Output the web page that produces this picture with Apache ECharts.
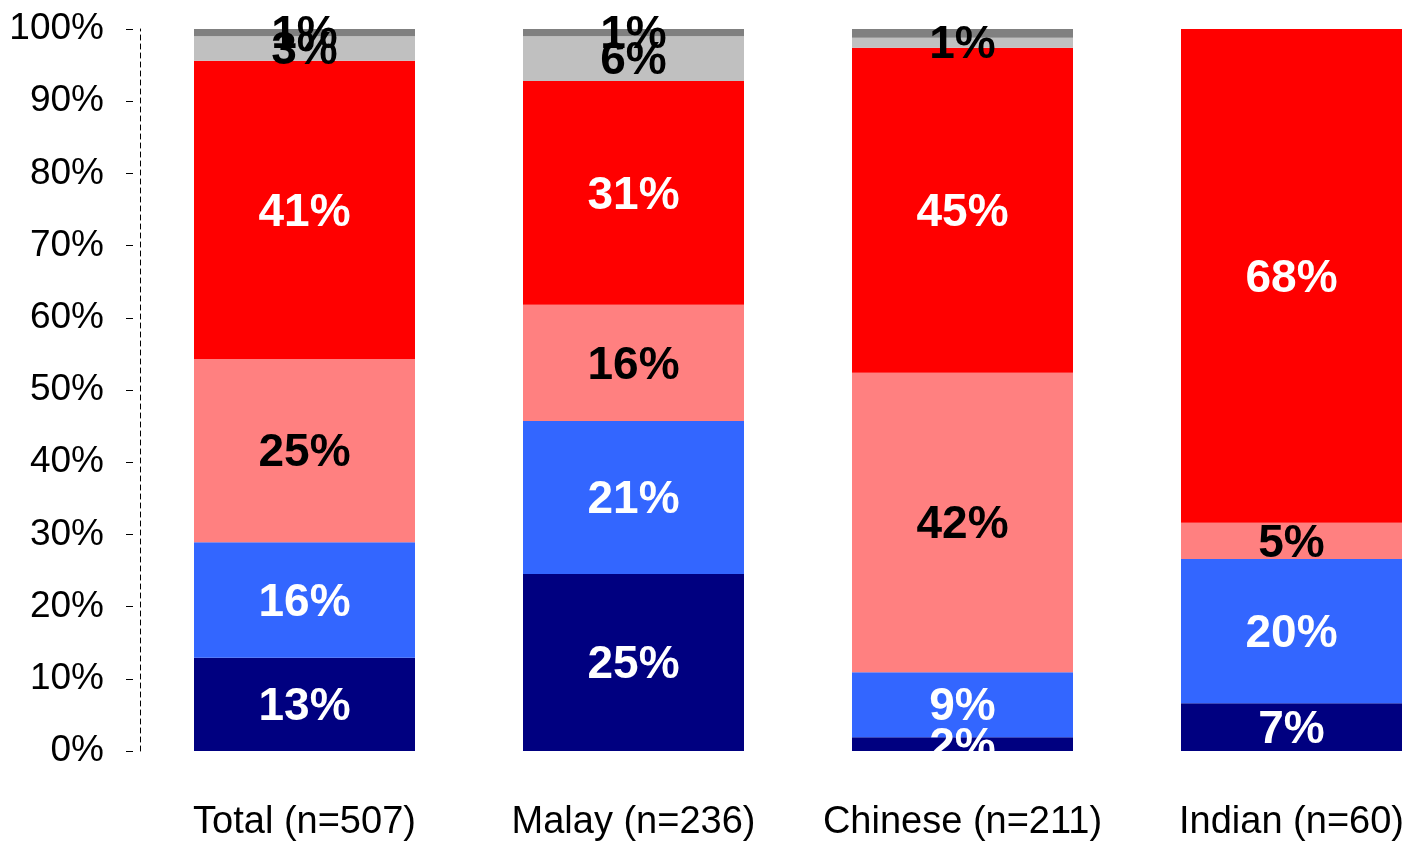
<!DOCTYPE html>
<html>
<head>
<meta charset="utf-8">
<script src="https://cdn.jsdelivr.net/npm/echarts@6/dist/echarts.min.js"></script>
<style>
  html, body { margin: 0; padding: 0; background: #fff; }
  #chart { width: 1408px; height: 847px; }
</style>
</head>
<body>
<div id="chart"></div>
<script>
// categories along the x axis
var categories = ['Total (n=507)', 'Malay (n=236)', 'Chinese (n=211)', 'Indian (n=60)']

// stacked shares, bottom to top (percent)
var navyVals = [12.9, 24.5, 1.9, 6.6]
var blueVals = [16.0, 21.2, 9.0, 20.0]
var salmonVals = [25.4, 16.1, 41.5, 5.0]
var redVals = [41.3, 31.0, 45.0, 68.4]
var grayVals = [3.4, 6.2, 1.4, 0]
var darkGrayVals = [1.0, 1.0, 1.2, 0]

// labels that are not shown in the original
var darkGrayHidden = [false, false, true, true]

var yTicks = [0, 10, 20, 30, 40, 50, 60, 70, 80, 90, 100]

var chart = echarts.init(document.getElementById('chart'))

function makeSeries(name, vals, color, textColor, hidden) {
  return {
    name: name,
    type: 'bar',
    stack: 'all',
    barWidth: 221,
    itemStyle: { color: color },
    label: {
      show: true,
      position: 'inside',
      offset: [0, 3],
      color: textColor,
      fontFamily: 'Liberation Sans, Arial, sans-serif',
      fontWeight: 'bold',
      fontSize: 46,
      formatter: function (p) {
        var v = Math.round(p.value)
        return v > 0 ? v + '%' : ''
      }
    },
    data: vals.map(function (v, i) {
      if (hidden && hidden[i]) {
        return { value: v, label: { show: false } }
      }
      return v
    })
  }
}

chart.setOption({
  animation: false,
  grid: {
    left: 140,
    width: 1316,
    top: 29,
    bottom: 96,
    containLabel: false,
    outerBoundsMode: 'none'
  },
  xAxis: {
    type: 'category',
    data: categories,
    axisLine: { show: false },
    axisTick: { show: false },
    axisLabel: {
      interval: 0,
      margin: 53,
      color: '#000',
      fontFamily: 'Liberation Sans, Arial, sans-serif',
      fontSize: 38
    }
  },
  yAxis: [{
    type: 'value',
    min: 0,
    max: 100,
    interval: 10,
    offset: 7,
    splitLine: { show: false },
    axisLine: { show: false },
    axisTick: { show: true, length: 7, lineStyle: { color: '#000', width: 1 } },
    axisLabel: {
      margin: 29,
      color: '#000',
      fontFamily: 'Liberation Sans, Arial, sans-serif',
      fontSize: 37,
      formatter: function (v) {
        return yTicks.indexOf(v) >= 0 ? v + '%' : ''
      }
    }
  }, {
    type: 'value',
    position: 'left',
    min: 0,
    max: 100,
    interval: 10,
    splitLine: { show: false },
    axisTick: { show: false },
    axisLabel: { show: false },
    axisLine: { show: true, lineStyle: { color: '#000', width: 1, type: [5, 4] } }
  }],
  series: [
    makeSeries('s1', navyVals, '#000080', '#fff'),
    makeSeries('s2', blueVals, '#3366FF', '#fff'),
    makeSeries('s3', salmonVals, '#FF8080', '#000'),
    makeSeries('s4', redVals, '#FF0000', '#fff'),
    makeSeries('s5', grayVals, '#C0C0C0', '#000'),
    makeSeries('s6', darkGrayVals, '#808080', '#000', darkGrayHidden)
  ]
})
</script>
</body>
</html>
